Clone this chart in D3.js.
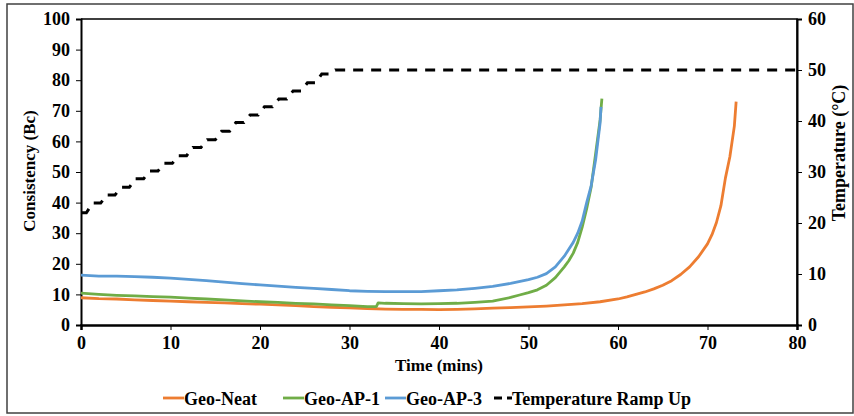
<!DOCTYPE html>
<html>
<head>
<meta charset="UTF-8">
<style>
  body { margin: 0; background: #fff; }
  text { font-family: 'Liberation Serif', 'Times New Roman', serif; font-weight: bold; fill: #000; }
  .tick text { font-size: 18px; }
  .axis-title { font-size: 17px; text-anchor: middle; }
  .legend text { font-size: 18px; }
</style>
</head>
<body>
<svg id="chart" width="854" height="416"></svg>
<script src="https://d3js.org/d3.v7.min.js"></script>
<script>
// consistency curves (time in mins, consistency in Bc)
var neatTime = [0,2,4,6,8,10,12,14,16,18,20,22,24,26,28,30,32,34,36,38,40,42,44,46,48,50,52,54,56,58,60,61,62,63,64,65,66,67,68,69,70,70.5,71,71.5,72,72.5,73,73.2];
var neatBc   = [8.9,8.6,8.5,8.2,8.0,7.8,7.6,7.4,7.2,7.0,6.8,6.6,6.3,6.0,5.8,5.6,5.4,5.2,5.1,5.1,5.0,5.1,5.3,5.5,5.7,5.9,6.2,6.6,7.0,7.6,8.5,9.2,10.0,10.8,11.8,13.0,14.5,16.5,19.0,22.3,26.5,29.5,33.5,39,48,55,65,73];

var ap1Time = [0,2,4,6,8,10,12,14,16,18,20,22,24,26,28,30,32,33,33.2,34,36,38,40,42,44,46,48,49,50,51,52,53,54,54.5,55,55.5,56,56.5,57,57.5,58,58.2];
var ap1Bc   = [10.4,10.0,9.7,9.5,9.3,9.1,8.8,8.5,8.2,7.9,7.6,7.4,7.1,6.9,6.6,6.3,6.0,6.0,7.2,7.1,7.0,6.9,7.0,7.1,7.4,7.8,9.0,9.8,10.6,11.5,13.0,15.5,19,21,23.5,27,32,38,45,56,67,74];

var ap3Time = [0,2,4,6,8,10,12,14,16,18,20,22,24,26,28,30,32,34,36,38,40,42,44,46,48,50,51,52,53,54,55,55.5,56,56.5,57,57.5,58,58.1];
var ap3Bc   = [16.3,16.0,16.0,15.8,15.6,15.3,14.9,14.5,14.0,13.5,13.1,12.7,12.3,12.0,11.6,11.2,11.0,10.9,10.9,10.9,11.2,11.5,12.0,12.6,13.6,14.8,15.6,16.8,19.0,22.5,27,30,34,40,45.5,54,66,71.3];

// temperature ramp, stepped (time in mins, degC)
var rampTime = [0,0.6,1.3,2.2,2.9,3.8,4.5,5.4,6.1,7.0,7.7,8.6,9.3,10.2,10.9,11.8,12.5,13.4,14.1,15.0,15.7,16.6,17.3,18.2,18.9,19.8,20.5,21.4,22.1,23.0,23.7,24.6,25.3,26.2,26.9,27.8,28.4,80];
var rampC    = [22.0,22.0,23.9,23.9,25.5,25.5,27.0,27.0,28.7,28.7,30.2,30.2,31.7,31.7,33.2,33.2,34.8,34.8,36.3,36.3,38.0,38.0,39.7,39.7,41.2,41.2,42.8,42.8,44.3,44.3,45.9,45.9,47.5,47.5,49.2,49.2,50,50];

var xTicks = [0,10,20,30,40,50,60,70,80];
var yTicks = [0,10,20,30,40,50,60,70,80,90,100];
var y2Ticks = [0,10,20,30,40,50,60];

var seriesNames = ["Geo-Neat", "Geo-AP-1", "Geo-AP-3"];
var seriesColors = ["#ED7D31", "#70AD47", "#5B9BD5"];

var svg = d3.select("#chart");

// outer frame
svg.append("rect")
  .attr("x", 7).attr("y", 4).attr("width", 846).attr("height", 409)
  .attr("fill", "none").attr("stroke", "#404040").attr("stroke-width", 1.5);

var plotLeft = 81, plotRight = 797, plotTop = 19, plotBottom = 325;

var x = d3.scaleLinear().domain([0, 80]).range([plotLeft, plotRight]);
var y = d3.scaleLinear().domain([0, 100]).range([plotBottom, plotTop]);
var y2 = d3.scaleLinear().domain([0, 60]).range([plotBottom, plotTop]);

// plot area top and right border
svg.append("path")
  .attr("d", "M" + plotLeft + "," + plotTop + "H" + plotRight + "V" + plotBottom)
  .attr("fill", "none").attr("stroke", "#000").attr("stroke-width", 1.5);

var xAxis = svg.append("g")
  .attr("transform", "translate(0," + plotBottom + ")")
  .call(d3.axisBottom(x).tickValues(xTicks).tickSize(5).tickPadding(6));
var yAxis = svg.append("g")
  .attr("transform", "translate(" + plotLeft + ",0)")
  .call(d3.axisLeft(y).tickValues(yTicks).tickSize(5).tickPadding(6));
var y2Axis = svg.append("g")
  .attr("transform", "translate(" + plotRight + ",0)")
  .call(d3.axisRight(y2).tickValues(y2Ticks).tickSize(5).tickPadding(6));

[xAxis, yAxis, y2Axis].forEach(function (a) {
  a.attr("font-family", "'Liberation Serif', serif").attr("font-size", 18);
  a.select(".domain").attr("stroke", "#000").attr("stroke-width", 2);
  a.selectAll(".tick line").attr("stroke", "#000").attr("stroke-width", 1);
});
xAxis.select(".domain").attr("stroke-width", 2.5);

// clip
svg.append("clipPath").attr("id", "plotclip")
  .append("rect").attr("x", plotLeft).attr("y", plotTop - 5)
  .attr("width", plotRight - plotLeft).attr("height", plotBottom - plotTop + 5);

var g = svg.append("g").attr("clip-path", "url(#plotclip)");

// temperature ramp
var rampData = rampTime.map(function (t, i) { return [t, rampC[i]]; });
g.append("path")
  .datum(rampData)
  .attr("fill", "none")
  .attr("stroke", "#000")
  .attr("stroke-width", 3)
  .attr("stroke-dasharray", "10,8")
  .attr("d", d3.line().x(function (d) { return x(d[0]); }).y(function (d) { return y2(d[1]); }));

var lineBc = d3.line().x(function (d) { return x(d[0]); }).y(function (d) { return y(d[1]); });
var allSeries = [
  neatTime.map(function (t, i) { return [t, neatBc[i]]; }),
  ap1Time.map(function (t, i) { return [t, ap1Bc[i]]; }),
  ap3Time.map(function (t, i) { return [t, ap3Bc[i]]; })
];
allSeries.forEach(function (s, i) {
  g.append("path")
    .datum(s)
    .attr("fill", "none")
    .attr("stroke", seriesColors[i])
    .attr("stroke-width", 2.8)
    .attr("stroke-linejoin", "round")
    .attr("d", lineBc);
});

// axis titles
svg.append("text").attr("class", "axis-title")
  .attr("x", 439).attr("y", 371)
  .text("Time (mins)");
svg.append("text").attr("class", "axis-title")
  .attr("transform", "translate(35," + 171 + ") rotate(-90)")
  .text("Consistency (Bc)");
svg.append("text").attr("class", "axis-title")
  .attr("transform", "translate(845," + 153 + ") rotate(-90)")
  .style("font-size", "18px")
  .text("Temperature (°C)");

// legend
var legend = svg.append("g").attr("class", "legend");
var legendX = [163, 283, 385];
seriesNames.forEach(function (name, i) {
  legend.append("line")
    .attr("x1", legendX[i]).attr("x2", legendX[i] + 21)
    .attr("y1", 398).attr("y2", 398)
    .attr("stroke", seriesColors[i]).attr("stroke-width", 2.8);
  legend.append("text")
    .attr("x", legendX[i] + 21).attr("y", 405)
    .text(name);
});
legend.append("line")
  .attr("x1", 494).attr("x2", 512)
  .attr("y1", 398).attr("y2", 398)
  .attr("stroke", "#000").attr("stroke-width", 3)
  .attr("stroke-dasharray", "8,5");
legend.append("text")
  .attr("x", 512).attr("y", 405)
  .text("Temperature Ramp Up");
</script>
</body>
</html>
